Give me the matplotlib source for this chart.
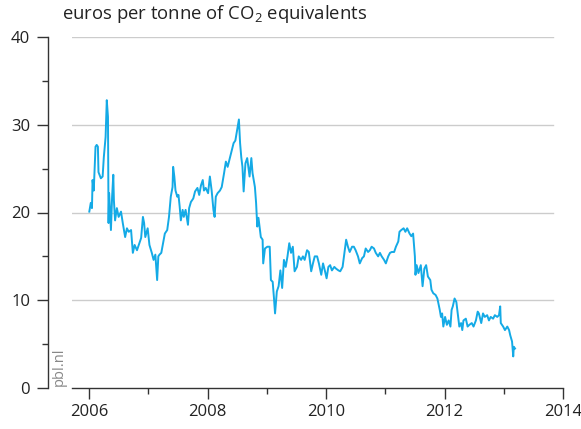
import matplotlib
matplotlib.use("Agg")
import matplotlib.pyplot as plt
from matplotlib.ticker import MultipleLocator

plt.rcParams['font.family'] = ['Open Sans', 'DejaVu Sans']
plt.rcParams['mathtext.default'] = 'regular'

# decimal years
years = [2006.005, 2006.03, 2006.05, 2006.06, 2006.08, 2006.11, 2006.13, 2006.15, 2006.16, 2006.20,
         2006.23, 2006.25, 2006.28, 2006.30, 2006.32, 2006.33, 2006.34, 2006.37, 2006.39, 2006.41,
         2006.42, 2006.44, 2006.47, 2006.50, 2006.54, 2006.57, 2006.61, 2006.64, 2006.67, 2006.71,
         2006.74, 2006.77, 2006.81, 2006.84, 2006.88, 2006.91, 2006.93, 2006.95, 2006.99, 2007.02,
         2007.06, 2007.09, 2007.12, 2007.15, 2007.17, 2007.19, 2007.22, 2007.25, 2007.28, 2007.32,
         2007.35, 2007.38, 2007.41, 2007.42, 2007.44, 2007.46, 2007.49, 2007.51, 2007.53, 2007.55,
         2007.58, 2007.60, 2007.63, 2007.67, 2007.69, 2007.72, 2007.76, 2007.79, 2007.83, 2007.86,
         2007.89, 2007.92, 2007.94, 2007.97, 2008.01, 2008.04, 2008.07, 2008.10, 2008.12, 2008.14,
         2008.17, 2008.21, 2008.24, 2008.28, 2008.31, 2008.34, 2008.37, 2008.40, 2008.44, 2008.47,
         2008.49, 2008.53, 2008.55, 2008.57, 2008.59, 2008.61, 2008.64, 2008.67, 2008.71, 2008.74,
         2008.76, 2008.80, 2008.82, 2008.84, 2008.86, 2008.90, 2008.93, 2008.94, 2008.97, 2009.01,
         2009.05, 2009.07, 2009.10, 2009.12, 2009.14, 2009.17, 2009.20, 2009.23, 2009.26, 2009.29,
         2009.32, 2009.35, 2009.38, 2009.41, 2009.44, 2009.47, 2009.51, 2009.54, 2009.58, 2009.61,
         2009.64, 2009.68, 2009.71, 2009.75, 2009.78, 2009.81, 2009.85, 2009.88, 2009.92, 2009.95,
         2009.98, 2010.01, 2010.04, 2010.07, 2010.10, 2010.14, 2010.17, 2010.21, 2010.24, 2010.28,
         2010.31, 2010.34, 2010.37, 2010.40, 2010.44, 2010.47, 2010.50, 2010.54, 2010.57, 2010.61,
         2010.64, 2010.67, 2010.71, 2010.74, 2010.77, 2010.81, 2010.84, 2010.88, 2010.91, 2010.94,
         2010.98, 2011.01, 2011.05, 2011.08, 2011.11, 2011.15, 2011.18, 2011.22, 2011.24, 2011.27,
         2011.31, 2011.34, 2011.37, 2011.41, 2011.44, 2011.47, 2011.50, 2011.51, 2011.53, 2011.56,
         2011.60, 2011.63, 2011.66, 2011.69, 2011.72, 2011.76, 2011.78, 2011.81, 2011.85, 2011.88,
         2011.92, 2011.94, 2011.96, 2011.98, 2012.01, 2012.04, 2012.07, 2012.10, 2012.12, 2012.14,
         2012.17, 2012.20, 2012.23, 2012.25, 2012.28, 2012.30, 2012.32, 2012.36, 2012.39, 2012.42,
         2012.46, 2012.49, 2012.53, 2012.56, 2012.58, 2012.62, 2012.65, 2012.68, 2012.72, 2012.75,
         2012.78, 2012.82, 2012.85, 2012.89, 2012.92, 2012.94, 2012.95, 2012.99, 2013.02, 2013.06,
         2013.09, 2013.11, 2013.14, 2013.16, 2013.17, 2013.19]

prices = [20.1, 21.1, 20.5, 23.7, 22.5, 27.5, 27.7, 27.5, 24.6, 23.9,
          24.1, 26.3, 28.6, 32.8, 30.9, 18.8, 22.2, 18.0, 21.8, 24.3,
          21.4, 19.1, 20.5, 19.5, 20.1, 18.8, 17.2, 18.2, 17.8, 18.0,
          15.4, 16.3, 15.7, 16.3, 17.1, 19.5, 18.8, 17.2, 18.2, 16.3,
          15.4, 14.6, 15.2, 12.3, 15.0, 15.2, 15.4, 16.5, 17.6, 18.0,
          19.5, 21.8, 22.9, 25.2, 24.1, 22.5, 21.8, 22.0, 20.7, 19.1,
          20.3, 19.5, 20.3, 18.6, 20.5, 21.2, 21.6, 22.4, 22.8, 22.0,
          23.1, 23.7, 22.5, 22.8, 22.2, 24.1, 22.5, 20.3, 19.5, 21.8,
          22.2, 22.5, 22.9, 24.5, 25.8, 25.2, 26.0, 26.8, 27.9, 28.2,
          29.0, 30.6, 27.9, 26.3, 25.2, 22.4, 25.6, 26.2, 24.1, 26.2,
          24.5, 22.9, 21.1, 18.4, 19.4, 17.2, 16.9, 14.2, 15.9, 16.1,
          16.1, 12.3, 12.1, 10.4, 8.5, 11.0, 11.6, 13.4, 11.4, 14.6,
          13.8, 15.0, 16.5, 15.4, 16.1, 13.3, 13.8, 15.0, 14.6, 15.0,
          14.6, 15.7, 15.5, 13.3, 14.2, 15.0, 15.0, 14.2, 12.9, 14.2,
          13.4, 12.5, 13.8, 14.0, 13.4, 13.8, 13.6, 13.4, 13.3, 13.8,
          15.4, 16.9, 16.1, 15.5, 16.1, 16.1, 15.7, 15.0, 14.2, 14.8,
          15.0, 15.9, 15.5, 15.7, 16.1, 15.9, 15.4, 15.0, 15.4, 15.0,
          14.6, 14.2, 15.0, 15.4, 15.5, 15.5, 16.1, 16.7, 17.8, 18.0,
          18.2, 17.8, 18.2, 17.6, 17.3, 17.6, 15.0, 12.9, 14.0, 13.1,
          14.0, 11.6, 13.6, 14.0, 12.7, 12.3, 11.2, 10.8, 10.6, 10.2,
          8.9, 8.1, 8.5, 7.0, 8.1, 7.2, 7.7, 7.0, 8.9, 9.3,
          10.2, 9.8, 8.1, 7.0, 7.4, 6.6, 7.7, 7.9, 7.0, 7.2,
          7.4, 7.0, 7.7, 8.7, 8.5, 7.4, 8.5, 8.1, 8.3, 7.7,
          8.1, 7.9, 8.3, 8.1, 8.3, 9.3, 7.4, 7.0, 6.6, 7.0,
          6.6, 6.0, 5.3, 3.6, 4.7, 4.5]

xticks = [2006, 2008, 2010, 2012, 2014]
yticks = [0, 10, 20, 30, 40]
title = "euros per tonne of CO$_2$ equivalents"

W, H = 581, 429
fig = plt.figure(figsize=(W / 100, H / 100), dpi=100)
ax = fig.add_axes([72 / W, (H - 388) / H, (563 - 72) / W, (388 - 37) / H])

line_color = '#14aae6'
axis_color = '#333333'

ax.set_xlim(2005.713, 2014.0)
ax.set_ylim(0, 40)

for y in yticks[1:]:
    ax.axhline(y, xmin=0, xmax=0.98, color='#cccccc', lw=1.0, zorder=1)

ax.plot(years, prices, color=line_color, lw=1.4, zorder=3)

for s in ['top', 'right']:
    ax.spines[s].set_visible(False)
ax.spines['left'].set_position(('outward', 17.3))
for s in ['left', 'bottom']:
    ax.spines[s].set_color(axis_color)
    ax.spines[s].set_linewidth(1.0)

ax.set_xticks(xticks)
ax.set_xticklabels([str(t) for t in xticks])
ax.xaxis.set_minor_locator(MultipleLocator(1))
ax.set_yticks(yticks)
ax.set_yticklabels([str(t) for t in yticks])
ax.yaxis.set_minor_locator(MultipleLocator(5))

ax.tick_params(axis='both', which='major', direction='out', length=7.8, width=1.0,
               color=axis_color, labelsize=12, labelcolor='#222222')
ax.tick_params(axis='both', which='minor', direction='out', length=4.2, width=1.0,
               color=axis_color)
ax.tick_params(axis='x', which='major', pad=4)
ax.tick_params(axis='y', which='major', pad=5)

fig.text(62 / W, 1 - 14 / H, title, fontsize=13.3, color='#222222', ha='left', va='center')
fig.text(59 / W, (H - 386) / H, 'pbl.nl', fontsize=10.5, color='#888888', rotation=90,
         ha='center', va='bottom')

fig.savefig('out.png', dpi=100)
